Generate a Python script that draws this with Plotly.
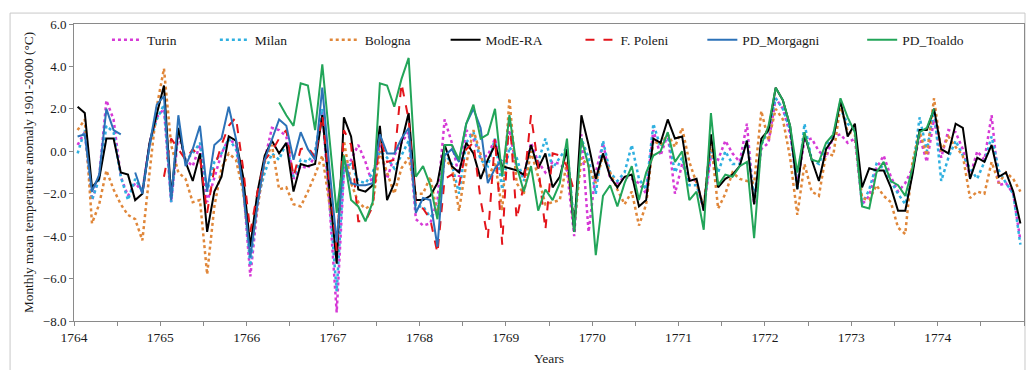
import plotly.graph_objects as go

years = list(range(1764, 1775))
months = list(range(1, 13))

turin = [
    0.3, 0.9, -2.3, -1.2, 2.4, 1.5, -1.2, -2.1, -1.5, -1.9, 0.4, 1.6,
    2.0, -2.4, 0.8, -0.4, -0.7, 0.3, -2.4, -1.3, -0.1, 0.6, 0.3, -1.6,
    -5.9, -2.6, -0.4, 1.1, 1.0, 0.7, -1.3, -0.7, -0.8, -0.2, 1.9, -2.5,
    -7.6, -1.0, -0.4, 0.3, -0.5, -1.6, 0.3, -1.3, -0.2, 0.4, 0.9, -3.2,
    -3.5, -3.4, -2.3, 1.5, 0.4, -1.2, 1.0, 0.6, -0.3, -0.2, 0.6, -1.0,
    1.0, -0.8, -1.2, 0.4, -0.5, -1.0, -0.5, -0.6, -0.9, -4.0, 0.8, -3.8,
    -1.0, 0.4, -1.3, -1.5, -1.2, -1.3, -1.5, -2.0, 1.0, -0.2, 0.8, -2.0,
    -0.6, -1.3, -1.4, -2.8, -0.2, -0.4, 0.5, -0.1, -0.5, 1.3, -2.5, 0.1,
    0.4, 2.5, 2.0, 0.8, -1.5, 0.5, 0.6, 0.0, -0.3, 0.7, 0.8, 0.4,
    0.6, -2.5, -2.1, -0.8, -0.2, -1.2, -1.9, -1.5, -0.8, 0.7, -0.5, 1.5,
    -0.3, 1.0, 0.9, 0.1, -1.2, 0.0, -0.4, 1.7, -1.6, -1.5, -2.0, -4.2,
]

milan = [
    -0.1, 1.0, -2.3, -1.3, 1.2, 0.9, -1.2, -2.3, -1.3, -1.9, 0.3, 1.5,
    2.2, -2.4, 1.0, -0.4, -0.1, 0.4, -1.9, -0.5, -0.1, 0.6, 0.1, -1.6,
    -5.4, -2.3, -1.0, -0.1, -0.4, 0.4, -1.2, -0.4, -0.5, 0.0, 2.0, -2.3,
    -6.6, -0.8, -0.6, -1.4, -1.5, -1.0, 0.0, -0.3, -0.8, -0.2, 0.5, -2.6,
    -2.6, -3.1, -2.8, -0.1, -0.6, -2.0, 0.4, 0.9, -0.4, -0.7, 0.6, -1.8,
    0.2, -0.3, -1.4, 0.0, -0.5, 0.6, -0.8, -0.3, 0.2, -3.5, 0.6, -0.3,
    -2.0, 0.5, -1.0, -1.4, -1.0, 0.3, -1.3, -1.8, 1.3, 0.2, 0.8, -1.0,
    -0.3, -1.6, -1.6, -2.7, 0.0, -1.0, 0.0, -0.6, -0.6, 0.5, -2.2, 0.3,
    1.0, 2.5, 2.0, 1.0, -1.8, 1.3, -0.4, -0.6, 0.2, 0.8, 2.0, 1.3,
    1.0, -2.5, -1.8, -0.6, -0.8, -1.4, -2.0, -2.5, -1.0, 1.6, 0.0, 2.0,
    -1.4, -0.3, 0.5, -0.2, -0.8, -1.3, -0.5, 0.7, -0.9, -1.5, -2.0, -4.4,
]

bologna = [
    1.0, 1.5, -3.4, -2.5, -0.9, -1.8, -2.5, -3.0, -3.2, -4.2, -1.0, 2.1,
    3.9, 0.3, -1.0, -1.3, -2.4, -2.3, -5.8, -2.6, -0.8, -0.1, -0.4, -1.9,
    -4.8, -2.6, -0.5, 0.3, -1.8, -1.7, -2.5, -2.6, -1.9, -1.1, -0.2, -2.5,
    -4.5, 0.5, -1.5, -2.4, -2.7, -2.5, 0.0, -1.0, -2.0, -0.8, -0.3, -2.0,
    -2.0, -1.2, -3.0, -0.4, -0.7, -2.8, -0.6, 1.0, -0.2, -1.3, -0.5, -2.8,
    2.5, -1.5, -2.0, 0.0, -1.2, -2.5, -2.4, -2.3, -0.5, -3.5, -0.3, -0.7,
    -1.5, -0.2, -1.0, -1.8, -2.5, -1.9, -3.5, -2.5, 0.5, 0.3, 0.8, 0.2,
    1.1, -0.5, -1.5, -2.6, 0.5, -2.7, -2.0, -1.0, -1.3, -1.4, -1.5, 1.9,
    0.5, 2.0, 1.5, -0.3, -3.0, -0.6, -1.9, -2.1, -0.1, -0.2, 2.2, 0.9,
    0.8, -2.2, -2.3, -1.6, -2.1, -2.4, -3.6, -3.9, -0.5, 0.9, -0.2, 2.5,
    0.0, 0.7, 0.2, -0.2, -2.2, -1.9, -2.0, -0.5, -1.5, -1.0, -1.3, -1.9,
]

modera = [
    2.1, 1.8, -1.7, -1.3, 0.6, 0.6, -1.0, -1.1, -2.3, -2.0, 0.4, 1.7,
    3.1, -2.1, 1.1, -0.5, -1.4, -0.1, -3.8, -1.9, -1.2, 0.7, 0.5, -1.2,
    -4.5, -1.9, -0.2, 0.5, -0.1, 0.4, -1.9, -0.6, -0.7, -0.6, 1.7, -1.8,
    -5.3, 1.6, 0.7, -1.8, -1.9, -1.6, 1.2, -2.3, -1.5, 0.4, 1.8, -2.3,
    -2.3, -2.1, -1.5, 0.3, -0.7, -1.0, 0.4, -0.1, -1.3, -0.4, 0.3, -0.7,
    -0.8, -0.9, -1.1, 0.3, -0.8, -0.1, -1.7, -1.2, 0.1, -3.8, 1.7, 0.3,
    -1.3, -0.1, -1.2, -1.7, -1.2, -1.1, -2.6, -2.3, 0.6, 0.4, 1.5, 0.6,
    0.7, -1.4, -1.3, -2.8, 0.8, -1.7, -1.3, -1.1, -0.7, 0.5, -2.5, 0.6,
    1.0, 3.0, 2.4, 1.2, -1.8, 0.8, -0.4, -1.4, 0.1, 0.6, 2.4, 0.7,
    1.3, -1.7, -0.8, -0.9, -0.9, -1.7, -2.8, -2.8, -1.1, 1.0, 1.0, 2.0,
    0.1, -0.1, 1.3, 1.1, -1.3, -0.3, -0.5, 0.3, -1.2, -1.0, -1.9, -3.4,
]

poleni = [None] * 12 + [
    -1.2, 0.6, 0.1, -0.4, 0.1, -0.3, -2.9, -0.8, 0.3, 1.2, 1.6, -0.8,
    -3.8, -1.9, -0.4, 0.0, 0.6, 1.0, -1.2, 0.1, 0.2, -0.3, 1.7, -1.5,
    -4.7, 1.0, 0.3, -3.3, -3.3, -2.6, 0.7, -0.5, -0.4, 3.2, 1.5, -2.6,
    -2.7, -3.2, -4.8, -1.3, -1.1, -1.6, 0.1, 0.4, -2.3, -4.1, 0.6, -4.4,
    1.8, -3.2, -1.6, 1.7, -0.7, -3.7, -0.1, -0.2, -0.7, -1.9, None, None,
] + [None] * 60

morgagni = [
    0.7, 0.8, -1.9, -1.1, 2.0, 1.0, 0.8, None, -1.0, -2.0, 0.3, 2.2,
    2.6, -2.3, 1.7, -0.7, 0.1, 1.2, -1.9, 0.3, 0.6, 2.1, 0.6, -1.8,
    -5.0, -2.5, -0.4, 0.6, 1.5, 1.2, -0.4, 0.9, 0.1, -0.4, 3.0, -0.8,
    -4.3, -0.3, -1.5, -1.6, -1.6, -1.5, 0.8, -0.1, -0.1, 0.6, 1.1, -2.9,
    -2.2, -2.3, -4.5, -0.2, 0.1, -0.5, 1.3, 2.0, 1.1, -1.5, -0.8, -0.4,
] + [None] * 72

toaldo = [None] * 28 + [
    2.3, 1.7, 1.2, 3.2, 3.1, 1.0, 4.1, 0.6,
    -2.9, -0.2, -2.3, -2.6, -3.3, -2.4, 3.2, 3.1, 2.1, 3.4, 4.4, -1.2,
    -0.7, -1.6, -3.2, 0.3, 0.3, -0.4, 1.3, 2.2, 0.6, 0.8, 2.0, -1.2,
    1.7, -0.7, -1.9, -0.7, -2.8, -1.8, -2.3, -1.5, 0.6, -3.8, 0.6, -0.7,
    -4.9, -2.1, -1.6, -2.6, -1.5, -0.7, -2.3, -1.0, -0.2, 0.0, 0.9, -0.5,
    0.0, -2.3, -1.9, -3.7, 1.8, -1.6, -1.1, -1.2, -0.7, -0.5, -4.1, 0.3,
    1.2, 3.0, 2.4, 1.2, -1.0, 0.9, -0.4, -0.5, 0.4, 0.8, 2.5, 1.6,
    0.9, -2.6, -2.7, -1.0, -0.5, -1.4, -1.6, -2.1, -0.8, 0.9, 1.1, 2.0,
] + [None] * 12

# decimal-year position of each monthly value (mid-month)
x_dates = [y + (m - 0.5) / 12 for y in years for m in months]

FONT = "Liberation Serif"
TXT = "#1a1a1a"
AX = "#8a8a8a"

# plot-area geometry in pixels (for legend placement)
W, H = 1031, 370
L, R, T, B = 74, 6, 24, 47
PW = W - L - R
PH = H - T - B

series = [
    ("Turin", turin, dict(color="#d63ad6", width=2.5, dash="dot"), 147),
    ("Milan", milan, dict(color="#2fb0e0", width=2.5, dash="dot"), 255),
    ("Bologna", bologna, dict(color="#e0873a", width=2.5, dash="dot"), 365),
    ("ModE-RA", modera, dict(color="#000000", width=2), 486),
    ("F. Poleni", poleni, dict(color="#e3151b", width=2, dash="dash"), 621),
    ("PD_Morgagni", morgagni, dict(color="#2c72b8", width=2), 743),
    ("PD_Toaldo", toaldo, dict(color="#22a559", width=2), 903),
]

fig = go.Figure()
layout_legends = {}
for k, (name, vals, line, text_px) in enumerate(series):
    lg = "legend" if k == 0 else f"legend{k + 1}"
    fig.add_trace(go.Scatter(x=x_dates, y=vals, mode="lines", name=name,
                             line=line, connectgaps=False, legend=lg))
    layout_legends[lg] = dict(
        x=(text_px - 40 - L) / PW, y=(H - B - 40) / PH,
        xanchor="left", yanchor="middle", orientation="h",
        bgcolor="rgba(0,0,0,0)", borderwidth=0,
        font=dict(family=FONT, size=13.5, color=TXT),
        itemwidth=30, tracegroupgap=0,
    )

fig.update_layout(
    width=W, height=H,
    margin=dict(l=L, r=R, t=T, b=B),
    paper_bgcolor="white", plot_bgcolor="white",
    font=dict(family=FONT, size=13, color=TXT),
    showlegend=True,
    **layout_legends,
)

fig.update_xaxes(
    range=[years[0], years[-1] + 1],
    tickvals=years, ticktext=[str(y) for y in years],
    ticks="outside", ticklen=4, tickcolor=AX, tickwidth=1,
    minor=dict(dtick=0.5, tick0=years[0], ticks="outside", ticklen=4,
               tickcolor=AX, tickwidth=1, showgrid=False),
    showline=True, linecolor=AX, linewidth=1, mirror=True,
    showgrid=False, zeroline=False,
    tickfont=dict(family=FONT, size=13.5, color=TXT),
    title=dict(text="Years", font=dict(family=FONT, size=13.5, color=TXT), standoff=9),
)
fig.update_yaxes(
    range=[-8, 6], tickvals=[-8, -6, -4, -2, 0, 2, 4, 6], tickformat=".1f",
    ticks="outside", ticklen=4, tickcolor=AX, tickwidth=1,
    showline=True, linecolor=AX, linewidth=1, mirror=True,
    showgrid=False, zeroline=False,
    tickfont=dict(family=FONT, size=13, color=TXT),
    title=dict(text="Monthly mean temperature anomaly 1901-2000 (°C)",
               font=dict(family=FONT, size=13.3, color=TXT), standoff=6),
)

# outer chart border
fig.add_shape(type="rect", xref="paper", yref="paper",
              x0=(10 - L) / PW, x1=(1026 - L) / PW,
              y0=(H - B - 400) / PH, y1=(H - B - 13) / PH,
              line=dict(color="#c8c8c8", width=1), fillcolor="rgba(0,0,0,0)",
              layer="below")

fig.write_html("out.html")
